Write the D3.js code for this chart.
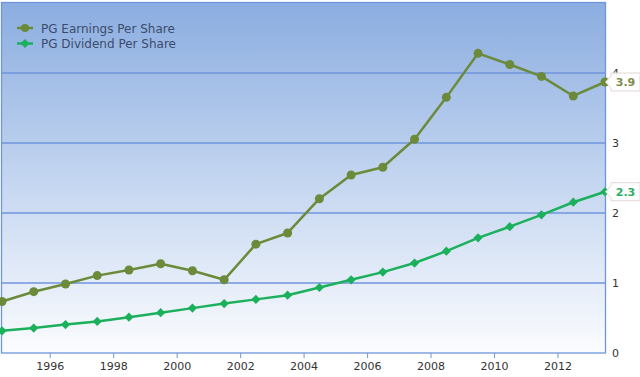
<!DOCTYPE html>
<html>
<head>
<meta charset="utf-8">
<script src="https://cdn.jsdelivr.net/npm/d3@7"></script>
<style>
  html, body { margin: 0; padding: 0; background: #fff; }
  svg { display: block; font-family: "DejaVu Sans", Verdana, sans-serif; }
</style>
</head>
<body>
<svg id="chart" width="640" height="377"></svg>
<script>
// ---- data ----
const dates = ["1994-07-01","1995-07-01","1996-07-01","1997-07-01","1998-07-01","1999-07-01",
  "2000-07-01","2001-07-01","2002-07-01","2003-07-01","2004-07-01","2005-07-01","2006-07-01",
  "2007-07-01","2008-07-01","2009-07-01","2010-07-01","2011-07-01","2012-07-01","2013-07-01"];
const earnings = [0.73, 0.87, 0.98, 1.10, 1.18, 1.27, 1.17, 1.04, 1.55, 1.71, 2.20, 2.54, 2.65,
  3.05, 3.65, 4.28, 4.12, 3.95, 3.67, 3.87];
const dividends = [0.31, 0.35, 0.40, 0.445, 0.505, 0.57, 0.635, 0.70, 0.76, 0.82, 0.93, 1.04, 1.15,
  1.28, 1.45, 1.64, 1.80, 1.97, 2.15, 2.30];
const seriesNames = ["PG Earnings Per Share", "PG Dividend Per Share"];
const yTicks = [0, 1, 2, 3, 4];
const endLabels = ["3.9", "2.3"];

// ---- layout ----
const svg = d3.select("#chart");
const L = 2, R = 605, T = 3, B = 352.5;
const parse = d3.utcParse("%Y-%m-%d");
const xd = dates.map(parse);
const x = d3.scaleUtc().domain([xd[0], xd[xd.length - 1]]).range([L, R]);
const y = d3.scaleLinear().domain([0, 5]).range([B, T]);

const colors = ["#6b8a3a", "#1bb05c"];
const labelColors = ["#7d8c4c", "#2aad65"];
const gridColor = "#6f95dc";

// gradient background
const defs = svg.append("defs");
const grad = defs.append("linearGradient").attr("id", "bg").attr("x1", 0).attr("y1", 0).attr("x2", 0).attr("y2", 1);
grad.append("stop").attr("offset", "0%").attr("stop-color", "#8badE0");
grad.append("stop").attr("offset", "50%").attr("stop-color", "#c3d5f0");
grad.append("stop").attr("offset", "100%").attr("stop-color", "#fbfcfe");

svg.append("rect").attr("x", L).attr("y", T).attr("width", R - L).attr("height", B - T)
  .attr("fill", "url(#bg)");

// grid lines
svg.append("g").selectAll("line").data(yTicks.slice(1)).join("line")
  .attr("x1", L).attr("x2", R)
  .attr("y1", d => Math.round(y(d))).attr("y2", d => Math.round(y(d)))
  .attr("stroke", gridColor).attr("stroke-width", 1.5);

// border
svg.append("rect").attr("x", L - 0.5).attr("y", T - 0.5).attr("width", R - L + 1).attr("height", B - T + 1)
  .attr("fill", "none").attr("stroke", gridColor).attr("stroke-width", 1.3);

// x axis
const xAxis = d3.axisBottom(x).ticks(d3.utcYear.every(2)).tickSize(5).tickPadding(4)
  .tickFormat(d3.utcFormat("%Y"));
const gx = svg.append("g").attr("transform", `translate(0,${B + 0.5})`).call(xAxis);
gx.select(".domain").remove();
gx.selectAll(".tick line").attr("stroke", gridColor);
gx.selectAll(".tick text").attr("fill", "#333").style("font-size", "11px")
  .style("font-family", "DejaVu Sans, Verdana, sans-serif");

// y axis (right)
const yAxis = d3.axisRight(y).tickValues(yTicks).tickSize(0).tickPadding(7).tickFormat(d3.format("d"));
const gy = svg.append("g").attr("transform", `translate(${R},0)`).call(yAxis);
gy.select(".domain").remove();
gy.selectAll(".tick text").attr("fill", "#333").style("font-size", "11px")
  .style("font-family", "DejaVu Sans, Verdana, sans-serif");

// lines
const allSeries = [earnings, dividends];
const line = d3.line().x((d, i) => x(xd[i])).y(d => y(d));
allSeries.forEach((vals, s) => {
  svg.append("path").datum(vals).attr("d", line).attr("fill", "none")
    .attr("stroke", colors[s]).attr("stroke-width", 2.5).attr("stroke-linejoin", "round");
});
// markers
svg.append("g").selectAll("circle").data(earnings).join("circle")
  .attr("cx", (d, i) => x(xd[i])).attr("cy", d => y(d)).attr("r", 4.5).attr("fill", colors[0]);
const dm = 4.6;
const diamondPath = `M0,${-dm}L${dm},0L0,${dm}L${-dm},0Z`;
svg.append("g").selectAll("path").data(dividends).join("path")
  .attr("transform", (d, i) => `translate(${x(xd[i])},${y(d)})`)
  .attr("d", diamondPath).attr("fill", colors[1]);

// legend
const lg = svg.append("g").attr("transform", "translate(17,28)");
seriesNames.forEach((name, s) => {
  const g = lg.append("g").attr("transform", `translate(0,${s * 15.5})`);
  g.append("line").attr("x1", 0).attr("x2", 16).attr("stroke", colors[s]).attr("stroke-width", 2.5);
  if (s === 0) g.append("circle").attr("cx", 8).attr("r", 4).attr("fill", colors[s]);
  else g.append("path").attr("transform", "translate(8,0)").attr("d", diamondPath).attr("fill", colors[s]);
  g.append("text").attr("x", 24).attr("y", 4.5).attr("fill", "#3b4c6b")
    .style("font-size", "12px").text(name);
});

// end value labels
allSeries.forEach((vals, s) => {
  const px = x(xd[xd.length - 1]), py = y(vals[vals.length - 1]);
  const g = svg.append("g").attr("transform", `translate(${px},${py})`);
  const h = 9, bx = 6, w = 29;
  g.append("path")
    .attr("d", `M0.5,0 L${bx},${-6} L${bx},${-h} L${bx + w},${-h} L${bx + w},${h} L${bx},${h} L${bx},6 Z`)
    .attr("fill", "#fff").attr("fill-opacity", 0.95).attr("stroke", "#e2d6d6").attr("stroke-width", 1);
  g.append("text").attr("x", bx + w / 2).attr("y", 4).attr("text-anchor", "middle")
    .attr("fill", labelColors[s]).style("font-size", "11px").style("font-weight", "bold")
    .text(endLabels[s]);
});
</script>
</body>
</html>
